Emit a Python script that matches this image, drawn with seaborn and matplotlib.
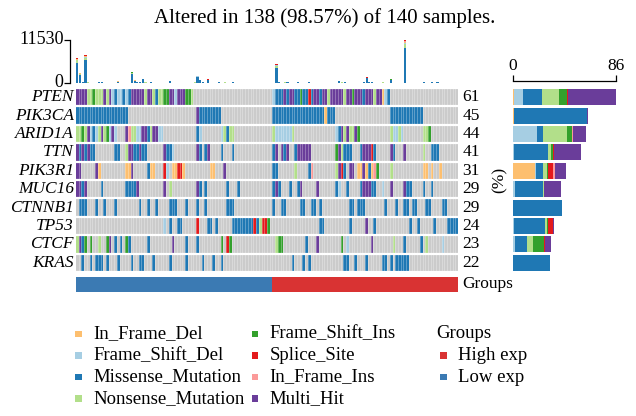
import numpy as np
import pandas as pd
import seaborn as sns
import matplotlib.pyplot as plt
from matplotlib.colors import ListedColormap
from matplotlib.patches import Rectangle
from matplotlib.transforms import ScaledTranslation

genes = ["PTEN", "PIK3CA", "ARID1A", "TTN", "PIK3R1", "MUC16", "CTNNB1", "TP53", "CTCF", "KRAS"]
n_samples = 140
n_altered = 138

classes = ["In_Frame_Del", "Frame_Shift_Del", "Missense_Mutation", "Nonsense_Mutation",
           "Frame_Shift_Ins", "Splice_Site", "In_Frame_Ins", "Multi_Hit"]
codes = ["D", "F", "M", "N", "I", "S", "J", "H"]
vc_colors = ["#FDBF6F", "#A6CEE3", "#1F78B4", "#B2DF8A", "#33A02C", "#E31A1C", "#FB9A99", "#6A3D9A"]

group_names = ["High exp", "Low exp"]
group_colors = ["#D93333", "#3B7AB3"]
sample_group = ["Low exp"] * 72 + ["High exp"] * 68

# one char per sample (10 per chunk), '.' = not mutated
pten = ["HHHHNNINNN", "HNHFMFFMFM", "HHHHHNHHNM", "NNIIHHFHHH", "IIN.......", "..........", "..........",
        "..FMMMHMHH", "MMIMMSMHHM", "HHNHHHHHNH", "HIHHHMHHHN", "HHDFM.....", "..........", ".........."]
pik3ca = ["MMMMMMMMMM", "MMMMMMMMM.", "..........", "..........", "....HMMMMM", "MMM.......", "..........",
          "..MMMMMMMM", "MMMMMMMMMM", "MDMMM.....", "..........", ".....MMMMM", "MMMMMMM...", ".........."]
arid1a = ["NNINHFMFNH", "NIFHF...HJ", "NNFFHHMNHH", "FF........", "....MF....", "...FNMNN..", "..........",
          "..NFFFFFFN", "..........", ".....FMHNH", "NNHI......", ".....NFFNF", ".......NNI", ".........."]
ttn = ["HMHMHMM...", "....MM..NH", "HMMHMM....", "..HMMF....", "....HM.MH.", "...M...M..", "..........",
       "..MH.HMH..", "MHHHHH....", ".....IHNMM", "M...MHHHSM", ".....HM...", "H......N..", "MMM......."]
pik3r1 = ["HH.....HD.", "........DD", "H.....MDD.", "..SF.DDSSD", ".........D", "D...H.....", "..........",
          "..MM......", "N....MJ...", ".....NHSM.", "HH.DDHDMDJ", "I....N....", ".......DD.", "D..D......"]
muc16 = ["HHMH.....M", "........MM", "MMH.......", "..H.N.....", "....HM.M..", ".....M...M", "..........",
         "..MHM...M.", ".MH.....H.", ".....MF..M", "....MHHHMM", "..F..H....", "HMM....M..", "M........."]
ctnnb1 = [".MMM...M..", "M...M.....", "...M..M..M", "....MMM...", "M...M..M..", ".....MMM..", "..........",
          "..M..MM...", "..MM..MM.M", "..........", "MM.MMM....", "...M...M..", "MM.MM...MM", "....MM...."]
tp53 = ["..........", "..........", "..........", "..F.M..MM.", "....S...MM", ".M.....MMM", "MMMMMSMNSS",
        "I.........", ".........M", "M.........", "M.....H..M", "..........", "..M..M....", ".M....MMMM"]
ctcf = ["NHMI.I..N.", ".IH.M.M.IM", "......M...", ".....H....", "M...M.....", "...I.SI...", "..........",
        "...NII....", "....M...H.", ".......I.F", "........H.", "......N...", "M.....M.N.", "....F....."]
kras = ["..M..M.MMM", ".M...M....", "M..MM...M.", "....M.....", "M.....M...", "M..M......", "..........",
        ".........M", "...M.M....", "........MM", "..M...M...", "..MM.M.MMM", "MM........", ".........."]

rows = ["".join(r) for r in [pten, pik3ca, arid1a, ttn, pik3r1, muc16, ctnnb1, tp53, ctcf, kras]]

# total mutations per sample (top bar)
tmb = [6650, 2700, 350, 7500, 150, 120, 90, 60, 200, 380,
       80, 100, 60, 70, 90, 420, 60, 50, 80, 120,
       3000, 700, 300, 250, 1200, 150, 80, 300, 90, 60,
       100, 70, 60, 80, 600, 120, 50, 70, 60, 80,
       60, 50, 70, 150, 1900, 900, 200, 60, 950, 60,
       50, 120, 180, 90, 150, 60, 40, 200, 60, 50,
       80, 40, 60, 50, 70, 40, 60, 50, 40, 60,
       50, 40, 120, 5050, 400, 80, 150, 200, 120, 60,
       80, 300, 60, 90, 120, 350, 60, 80, 40, 60,
       50, 60, 40, 80, 60, 120, 620, 150, 400, 60,
       80, 40, 60, 70, 120, 200, 1500, 300, 200, 60,
       80, 50, 150, 60, 90, 1000, 120, 60, 50, 40,
       11530, 60, 40, 50, 60, 40, 50, 250, 60, 80,
       300, 60, 300, 50, 50, 40, 60, 50, 40, 60]
# rough share of each class in the top bars
tmb_share = [0.02, 0.02, 0.82, 0.09, 0.01, 0.03, 0.01, 0.0]

palette = dict(zip(classes, vc_colors))
fs = 12.5

plt.rcParams["font.family"] = ["Liberation Serif", "DejaVu Serif"]
fig = plt.figure(figsize=(6.36, 4.16), dpi=100)

W, H = 636, 416
def box(x0, y0, x1, y1):
    return [x0 / W, 1 - y1 / H, (x1 - x0) / W, (y1 - y0) / H]

ax_top = fig.add_axes(box(76, 40, 458, 83))
ax_mat = fig.add_axes(box(76, 88, 458, 272))
ax_grp = fig.add_axes(box(76, 277, 458, 292))
ax_side = fig.add_axes(box(513, 88, 616, 272))

# oncoplot matrix
code_num = {c: i + 1 for i, c in enumerate(codes)}
mat = np.array([[code_num.get(ch, 0) for ch in r] for r in rows])
sns.heatmap(mat, ax=ax_mat, cmap=ListedColormap(["#CBCBCB"] + vc_colors), vmin=-0.5, vmax=8.5,
            cbar=False, linewidths=0, xticklabels=False, yticklabels=genes)
ax_mat.vlines(np.arange(1, n_samples), 0, len(genes), color="white", alpha=0.45, lw=0.45)
for i in range(len(genes) + 1):
    ax_mat.axhline(i, color="white", lw=1.6)
ax_mat.set_yticklabels(genes, rotation=0, fontstyle="italic", fontsize=fs)
ax_mat.tick_params(axis="y", length=0, pad=1.5)

counts = (mat > 0).sum(axis=1)
for i, c in enumerate(counts):
    ax_mat.text(n_samples + 1.6, i + 0.5, f"{round(100 * c / n_samples)}", va="center", ha="left", fontsize=fs)

# group annotation
grp = np.array([[group_names.index(g) for g in sample_group]])
sns.heatmap(grp, ax=ax_grp, cmap=ListedColormap(group_colors), vmin=-0.5, vmax=1.5,
            cbar=False, xticklabels=False, yticklabels=False)
ax_grp.text(n_samples + 1.6, 0.5, "Groups", va="center", ha="left", fontsize=fs)

# top bar: mutations per sample
top_df = pd.DataFrame([(s, vc, tmb[s] * sh) for s in range(n_samples) for vc, sh in zip(classes, tmb_share) if sh > 0],
                      columns=["sample", "vc", "n"])
top_order = ["Splice_Site", "In_Frame_Ins", "In_Frame_Del", "Frame_Shift_Ins", "Frame_Shift_Del",
             "Nonsense_Mutation", "Missense_Mutation"]
sns.histplot(data=top_df, x="sample", weights="n", hue="vc", hue_order=top_order, palette=palette,
             multiple="stack", discrete=True, shrink=0.8, linewidth=0, alpha=1, legend=False, ax=ax_top)
ax_top.set_xlim(-0.5, n_samples - 0.5)
ax_top.set_ylim(0, max(tmb))
ax_top.set_yticks([0, max(tmb)])
ax_top.set_yticklabels(["0", str(max(tmb))])
ax_top.set_xticks([])
ax_top.set_xlabel("")
ax_top.set_ylabel("")
for s in ["top", "right", "bottom"]:
    ax_top.spines[s].set_visible(False)
ax_top.spines["left"].set_position(("outward", 4))
ax_top.spines["left"].set_linewidth(0.9)
ax_top.tick_params(axis="y", length=4, width=0.9, labelsize=13, pad=1)
for lab in ax_top.get_yticklabels():
    lab.set_transform(lab.get_transform() + ScaledTranslation(0, 2 / 72, fig.dpi_scale_trans))

# side bar: per gene class counts
side_df = pd.DataFrame([(g, classes[codes.index(ch)]) for g, r in enumerate(rows) for ch in r if ch != "."],
                       columns=["gene", "vc"])
sns.histplot(data=side_df, y="gene", hue="vc", hue_order=classes[::-1], palette=palette,
             multiple="stack", discrete=True, shrink=0.86, linewidth=0, alpha=1, legend=False, ax=ax_side)
ax_side.set_ylim(len(genes) - 0.5, -0.5)
ax_side.set_xlim(0, counts.max())
ax_side.xaxis.set_ticks_position("top")
ax_side.set_xticks([0, counts.max()])
ax_side.set_yticks([])
ax_side.set_xlabel("")
ax_side.set_ylabel("(%)", fontsize=fs, labelpad=4)
for s in ["bottom", "right", "left"]:
    ax_side.spines[s].set_visible(False)
ax_side.spines["top"].set_position(("outward", 5))
ax_side.spines["top"].set_linewidth(0.9)
ax_side.tick_params(axis="x", length=4, width=0.9, labelsize=fs, pad=1)

fig.text(324.5 / W, 1 - 18 / H, f"Altered in {n_altered} ({100 * n_altered / n_samples:.2f}%) of {n_samples} samples.",
         ha="center", va="center", fontsize=15)

# legend
def legend_item(x, y, color, label):
    fig.add_artist(Rectangle(((x - 3.3) / W, 1 - (y + 3.3) / H), 6.6 / W, 6.6 / H,
                             transform=fig.transFigure, color=color, lw=0))
    fig.text((x + 14.5) / W, 1 - y / H, label, va="center", ha="left", fontsize=13.5)

row_y = [334, 355.5, 377, 398.5]
for k, (vc, col) in enumerate(zip(classes, vc_colors)):
    cx = 78.5 if k < 4 else 255
    legend_item(cx, row_y[k % 4], col, vc)
fig.text(436 / W, 1 - row_y[0] / H, "Groups", va="center", ha="left", fontsize=13.5)
for k, (g, col) in enumerate(zip(group_names, group_colors)):
    legend_item(443.5, row_y[k + 1], col, g)

fig.savefig("out.png", dpi=100)
